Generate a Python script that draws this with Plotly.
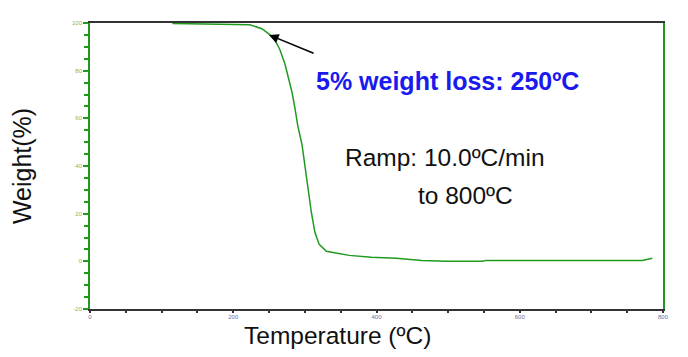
import plotly.graph_objects as go

# Data (Temperature °C, Weight %)
temperature = [115, 150, 195, 223, 240, 251, 258, 265, 272, 277, 282, 286, 290, 296,
               300, 304, 309, 314, 320, 330, 344, 362, 393, 428, 463, 498, 548, 553,
               650, 771, 785]
weight = [99.8, 99.7, 99.5, 99.3, 97.6, 95.1, 93.0, 88.9, 83.0, 77.0, 71.0, 64.5, 57.0, 49.0,
          40.0, 30.2, 20.6, 12.2, 7.1, 4.2, 3.4, 2.5, 1.7, 1.3, 0.4, 0.0, 0.0, 0.4,
          0.4, 0.4, 1.3]

x_ticks = [0, 200, 400, 600, 800]
y_ticks = [-20, 0, 20, 40, 60, 80, 100]

GREEN = "#1f9a1f"
FONT = "Liberation Sans, Arial, sans-serif"

# page offset (default body margin of the html page)
OFF = 8
# plot area in page pixels
L, R, T, B = 90, 663, 23, 309
W, H = 688, 357


def px(x):
    return (x - L) / (R - L)


def py(y):
    return (B - y) / (B - T)


fig = go.Figure()
fig.add_trace(go.Scatter(x=temperature, y=weight, mode="lines",
                         line=dict(color=GREEN, width=1.5), hoverinfo="skip"))

fig.update_layout(
    width=W - OFF, height=H - OFF,
    margin=dict(l=L - OFF, r=W - R, t=T - OFF, b=H - B),
    paper_bgcolor="white", plot_bgcolor="white",
    showlegend=False,
    font=dict(family=FONT),
)

fig.update_xaxes(
    range=[0, 800], tickvals=x_ticks, ticktext=[str(v) for v in x_ticks],
    showgrid=False, zeroline=False,
    showline=True, linecolor="#333333", linewidth=1.5, mirror=True,
    ticks="outside", ticklen=2, tickcolor="#333333", tickwidth=1.5,
    minor=dict(dtick=50, ticks="outside", ticklen=2, tickcolor="#333333", tickwidth=1.5),
    tickfont=dict(size=6, color="#6c6ca0", family=FONT),
    ticklabelstandoff=-1,
    automargin=False,
)
fig.update_yaxes(
    range=[-20, 100], tickvals=y_ticks, ticktext=[str(v) for v in y_ticks],
    showgrid=False, zeroline=False,
    showline=True, linecolor=GREEN, linewidth=1.5, mirror=True,
    ticks="outside", ticklen=5, tickcolor=GREEN, tickwidth=1.5,
    minor=dict(dtick=5, ticks="outside", ticklen=4, tickcolor=GREEN, tickwidth=1.5),
    tickfont=dict(size=6, color="#a8ad2a", family=FONT),
    title=dict(text="Weight(%)", font=dict(size=25, color="#111111", family=FONT),
               standoff=36),
    automargin=False,
)

# x-axis title (placed left of centre, as in the reference)
fig.add_annotation(x=px(337), y=py(335), xref="paper", yref="paper", showarrow=False,
                   xanchor="center", yanchor="middle", text="Temperature (ºC)",
                   font=dict(size=24.5, color="#111111", family=FONT))

# arrow pointing at 5% weight loss point
fig.add_annotation(x=250, y=95, xref="x", yref="y", ax=46, ay=19, axref="pixel", ayref="pixel",
                   text="", showarrow=True, arrowhead=2, arrowsize=1.2, arrowwidth=1.6,
                   arrowcolor="black")

fig.add_annotation(x=px(447), y=py(81), xref="paper", yref="paper", showarrow=False,
                   yanchor="middle", text="<b>5% weight loss: 250ºC</b>",
                   font=dict(size=25, color="#1a1aee", family=FONT))
fig.add_annotation(x=px(343), y=py(158), xref="paper", yref="paper", showarrow=False,
                   xanchor="left", yanchor="middle", text="Ramp: 10.0ºC/min",
                   font=dict(size=24.5, color="#111111", family=FONT))
fig.add_annotation(x=px(416), y=py(195), xref="paper", yref="paper", showarrow=False,
                   xanchor="left", yanchor="middle", text="to 800ºC",
                   font=dict(size=24.5, color="#111111", family=FONT))

fig.write_html("out.html")
